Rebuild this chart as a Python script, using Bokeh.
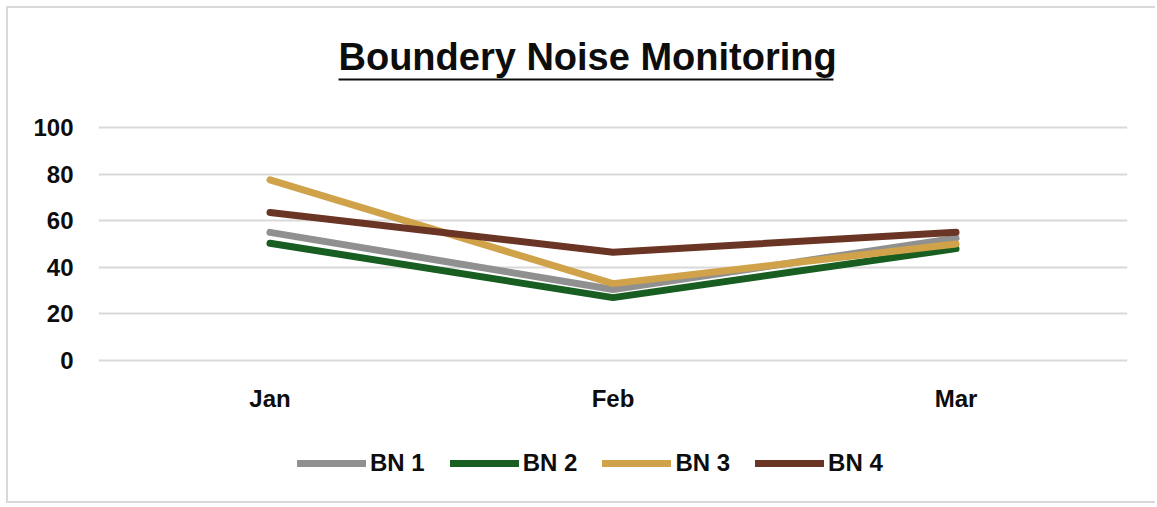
from bokeh.plotting import figure
from bokeh.models import (FixedTicker, Range1d, FactorRange, Legend, LegendItem,
                          BoxAnnotation, Label)
from bokeh.embed import file_html
from bokeh.resources import INLINE

months = ["Jan", "Feb", "Mar"]
bn1 = [55, 30.5, 52.5]
bn2 = [50.3, 27, 48]
bn3 = [77.5, 33, 50]
bn4 = [63.5, 46.5, 55]
series_names = ["BN 1", "BN 2", "BN 3", "BN 4"]
series_vals = [bn1, bn2, bn3, bn4]
colors = ["#909090", "#175E20", "#D0A24A", "#6B3526"]
y_ticks = [0, 20, 40, 60, 80, 100]
title_text = "Boundery Noise Monitoring"

FONT = "Liberation Sans"

# layout (pixels): canvas height 497, value 100 at 119px from top,
# value 0 at 352px from top
CANVAS_W = 1149
CANVAS_H = 497
PX_TOP_100 = 119
PX_ZERO = 352
ppu = (PX_ZERO - PX_TOP_100) / 100.0
y_end = 100 + PX_TOP_100 / ppu
y_start = -(CANVAS_H - PX_ZERO) / ppu

p = figure(width=CANVAS_W, height=CANVAS_H,
           x_range=FactorRange(*months, range_padding=0),
           y_range=Range1d(y_start, y_end), output_backend="svg", toolbar_location=None,
           min_border_left=90, min_border_right=30, min_border_top=0,
           min_border_bottom=0)
p.margin = (6, 0, 0, 6)
p.styles = {"border-left": "2px solid #d9d9d9", "border-top": "2px solid #d9d9d9",
            "border-bottom": "2px solid #d9d9d9"}
p.outline_line_color = None
p.background_fill_color = "white"
p.border_fill_color = "white"

p.xgrid.grid_line_color = None
p.ygrid.grid_line_color = "#d9d9d9"
p.ygrid.grid_line_width = 2

p.yaxis.ticker = FixedTicker(ticks=y_ticks)
p.xaxis.fixed_location = 0
for ax in (p.xaxis[0], p.yaxis[0]):
    ax.axis_line_color = None
    ax.major_tick_line_color = None
    ax.minor_tick_line_color = None
    ax.major_label_text_font = FONT
    ax.major_label_text_font_style = "bold"
    ax.major_label_text_font_size = "24px"
    ax.major_label_text_color = "#0d0d0d"
p.yaxis.major_label_standoff = 19
p.xaxis.major_label_standoff = 18

items = []
for name, vals, c in zip(series_names, series_vals, colors):
    r = p.line(months, vals, line_color=c, line_width=7, line_cap="round",
               line_join="round")
    items.append(LegendItem(label=name, renderers=[r]))

legend = Legend(items=items, orientation="horizontal", location=(199, 28),
                glyph_width=69, glyph_height=20, label_standoff=4, spacing=25,
                padding=0, margin=0, border_line_color=None,
                background_fill_alpha=0,
                label_text_font=FONT, label_text_font_style="bold",
                label_text_font_size="24px", label_text_color="#0d0d0d")
p.add_layout(legend, "center")

title = Label(x=240, y=CANVAS_H - 48, x_units="screen", y_units="screen",
              text=title_text, text_font=FONT, text_font_size="38px",
              text_font_style="bold", text_color="#0d0d0d",
              text_baseline="alphabetic", text_align="left")
p.add_layout(title)

underline = BoxAnnotation(left=240, right=735, top=CANVAS_H - 70, bottom=CANVAS_H - 72,
                          left_units="screen", right_units="screen",
                          top_units="screen", bottom_units="screen",
                          fill_color="#0d0d0d", fill_alpha=1, line_color=None)
p.add_layout(underline)

open("out.html", "w").write(file_html(p, INLINE))
